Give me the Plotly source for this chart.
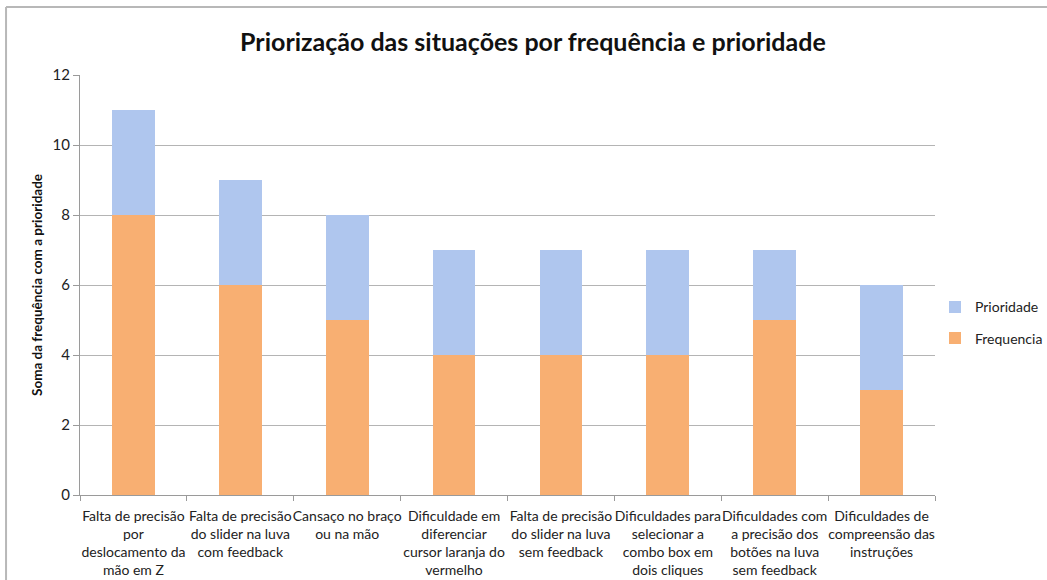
import plotly.graph_objects as go

categories = [
    "Falta de precisão<br>por<br>deslocamento da<br>mão em Z",
    "Falta de precisão<br>do slider na luva<br>com feedback",
    "Cansaço no braço<br>ou na mão",
    "Dificuldade em<br>diferenciar<br>cursor laranja do<br>vermelho",
    "Falta de precisão<br>do slider na luva<br>sem feedback",
    "Dificuldades para<br>selecionar a<br>combo box em<br>dois cliques",
    "Dificuldades com<br>a precisão dos<br>botões na luva<br>sem feedback",
    "Dificuldades de<br>compreensão das<br>instruções",
]
frequencia = [8, 6, 5, 4, 4, 4, 5, 3]
prioridade = [3, 3, 3, 3, 3, 3, 2, 3]
y_ticks = [0, 2, 4, 6, 8, 10, 12]

FONT = "Lato, 'Open Sans', sans-serif"

fig = go.Figure()
fig.add_trace(go.Bar(
    x=categories, y=frequencia, name="Frequencia", legendgroup="f",
    legendrank=2,
    marker=dict(color="#F8AF72", line=dict(width=0)),
    width=0.4,
))
fig.add_trace(go.Bar(
    x=categories, y=prioridade, name="Prioridade", legendgroup="p",
    legendrank=1,
    marker=dict(color="#AFC6EE", line=dict(width=0)),
    width=0.4,
))

fig.update_layout(
    barmode="stack",
    width=1047, height=580,
    paper_bgcolor="white", plot_bgcolor="white",
    margin=dict(l=80, r=112, t=75, b=85, autoexpand=False),
    font=dict(family=FONT, size=14, color="#222222"),
    title=dict(
        text="<b>Priorização das situações por frequência e prioridade</b>",
        x=0.509, xanchor="center", y=0.928, yanchor="middle",
        font=dict(family=FONT, size=25, color="#111111"),
    ),
    legend=dict(
        traceorder="grouped",
        x=1.0, xanchor="left", y=0.41, yanchor="middle",
        font=dict(size=14, color="#222222"),
        itemwidth=30, tracegroupgap=10,
    ),
    shapes=[
        dict(type="line", xref="paper", yref="paper",
             x0=-0.0865, x1=1.5, y0=1.162, y1=1.162,
             line=dict(color="#B8B8B8", width=2)),
        dict(type="line", xref="paper", yref="paper",
             x0=-0.0865, x1=-0.0865, y0=-0.5, y1=1.162,
             line=dict(color="#B8B8B8", width=2)),
    ],
)

fig.update_yaxes(
    range=[0, 12], tickvals=y_ticks, ticktext=[str(v) for v in y_ticks],
    showgrid=True, gridcolor="#B4B4B4", gridwidth=1,
    showline=True, linecolor="#9A9A9A", linewidth=1,
    ticks="outside", ticklen=6, tickcolor="#9A9A9A",
    tickfont=dict(size=15, color="#222222"),
    zeroline=False, automargin=False,
    title=dict(text="<b>Soma da frequência com a prioridade</b>",
               font=dict(size=13.5, color="#111111"), standoff=6),
)
fig.update_xaxes(
    showline=True, linecolor="#9A9A9A", linewidth=1,
    ticks="outside", tickson="boundaries", ticklen=5, tickcolor="#9A9A9A",
    tickfont=dict(size=14, color="#222222"),
    tickangle=0, automargin=False, ticklabelstandoff=8,
)

fig.write_html("out.html", config={"displayModeBar": False},
               post_script="document.body.style.margin='0';")
